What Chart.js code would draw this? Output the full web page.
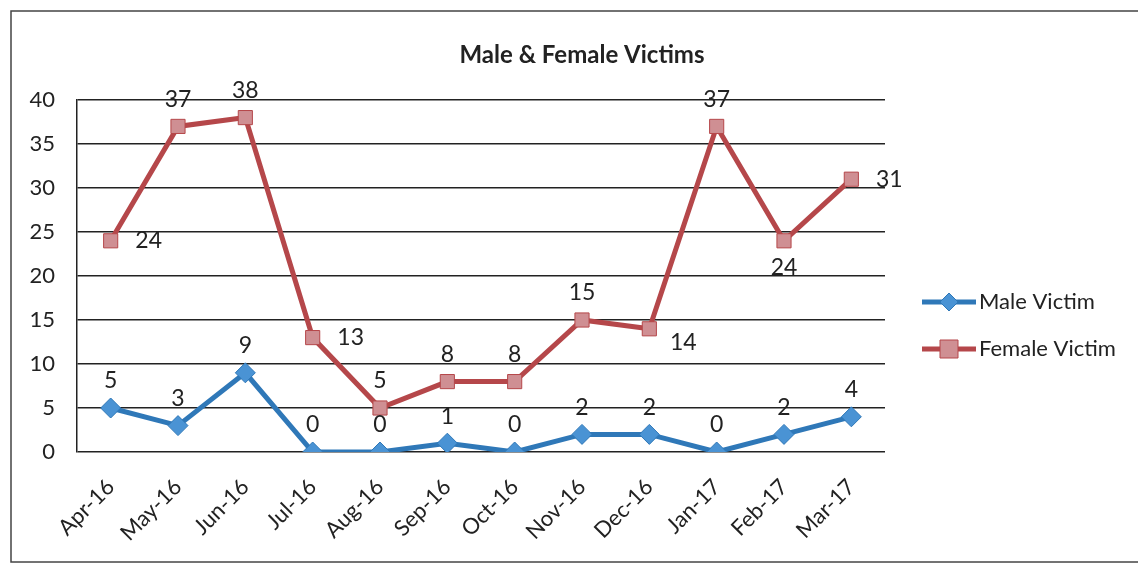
<!DOCTYPE html>
<html>
<head>
<meta charset="utf-8">
<script src="https://cdn.jsdelivr.net/npm/chart.js@4/dist/chart.umd.min.js"></script>
<style>
  html, body { margin: 0; padding: 0; background: #fff; }
  #wrap { width: 1138px; height: 566px; position: relative; }
</style>
</head>
<body>
<div id="wrap"><canvas id="chart"></canvas></div>
<script>
const months = ['Apr-16', 'May-16', 'Jun-16', 'Jul-16', 'Aug-16', 'Sep-16', 'Oct-16', 'Nov-16', 'Dec-16', 'Jan-17', 'Feb-17', 'Mar-17']
const maleVictims = [5, 3, 9, 0, 0, 1, 0, 2, 2, 0, 2, 4]
const femaleVictims = [24, 37, 38, 13, 5, 8, 8, 15, 14, 37, 24, 31]
const yTicks = [0, 5, 10, 15, 20, 25, 30, 35, 40]
const chartTitle = 'Male & Female Victims'

// where each value label sits relative to its point
const maleLabelPos = ['above', 'above', 'above', 'above', 'above', 'above', 'above', 'above', 'above', 'above', 'above', 'above']
const femaleLabelPos = ['right', 'above', 'above', 'right', 'above', 'above', 'above', 'above', 'belowRight', 'above', 'below', 'right']

const FONT = 'Lato, "Open Sans", sans-serif'
const MALE_LINE = '#2f78b8'
const MALE_FILL = '#4a93d4'
const FEMALE_LINE = '#b5474a'
const FEMALE_FILL = '#cf8f93'

// Value labels next to every point
const valueLabelsPlugin = {
  id: 'valueLabels',
  afterDatasetsDraw(chart) {
    const { ctx } = chart
    const positions = [maleLabelPos, femaleLabelPos]
    ctx.save()
    ctx.font = '23px ' + FONT
    ctx.fillStyle = '#222'
    ctx.textAlign = 'center'
    ctx.textBaseline = 'middle'
    chart.data.datasets.forEach((ds, di) => {
      const meta = chart.getDatasetMeta(di)
      meta.data.forEach((pt, i) => {
        let x = pt.x
        let y = pt.y
        const pos = positions[di][i]
        if (pos === 'above') y -= 27
        else if (pos === 'below') y += 27
        else if (pos === 'right') x += 38
        else if (pos === 'belowRight') { x += 34; y += 14 }
        ctx.fillText(String(ds.data[i]), x, y)
      })
    })
    ctx.restore()
  },
}

// Excel style legend: line segment with marker, then the name
const sideLegendPlugin = {
  id: 'sideLegend',
  afterDraw(chart) {
    const { ctx } = chart
    const rows = [
      { y: 302, ds: chart.data.datasets[0] },
      { y: 349, ds: chart.data.datasets[1] },
    ]
    ctx.save()
    rows.forEach(r => {
      const x0 = 922, x1 = 976, xm = (x0 + x1) / 2
      ctx.strokeStyle = r.ds.borderColor
      ctx.lineWidth = 5
      ctx.beginPath()
      ctx.moveTo(x0, r.y)
      ctx.lineTo(x1, r.y)
      ctx.stroke()
      ctx.fillStyle = r.ds.pointBackgroundColor
      ctx.strokeStyle = r.ds.borderColor
      ctx.lineWidth = 1
      ctx.beginPath()
      if (r.ds.pointStyle === 'rectRot') {
        ctx.moveTo(xm, r.y - 9)
        ctx.lineTo(xm + 9, r.y)
        ctx.lineTo(xm, r.y + 9)
        ctx.lineTo(xm - 9, r.y)
        ctx.closePath()
      } else {
        ctx.rect(xm - 9, r.y - 9, 18, 18)
      }
      ctx.fill()
      ctx.stroke()
      ctx.fillStyle = '#222'
      ctx.font = '22px ' + FONT
      ctx.textAlign = 'left'
      ctx.textBaseline = 'middle'
      ctx.fillText(r.ds.label, x1 + 3, r.y)
    })
    ctx.restore()
  },
}

// Outer frame and the title centred on the whole chart object
const framePlugin = {
  id: 'frame',
  beforeDraw(chart) {
    const { ctx } = chart
    ctx.save()
    ctx.fillStyle = '#fff'
    ctx.fillRect(0, 0, chart.width, chart.height)
    ctx.strokeStyle = '#444'
    ctx.lineWidth = 1.5
    ctx.strokeRect(11, 11, chart.width, chart.height - 15)
    ctx.fillStyle = '#222'
    ctx.font = 'bold 24px ' + FONT
    ctx.textAlign = 'center'
    ctx.textBaseline = 'middle'
    ctx.fillText(chartTitle, 582, 55)
    ctx.restore()
  },
}

new Chart(document.getElementById('chart'), {
  type: 'line',
  data: {
    labels: months,
    datasets: [
      {
        label: 'Male Victim',
        data: maleVictims,
        borderColor: MALE_LINE,
        backgroundColor: MALE_FILL,
        pointBackgroundColor: MALE_FILL,
        pointBorderColor: MALE_LINE,
        pointBorderWidth: 1,
        pointStyle: 'rectRot',
        pointRadius: 10,
        borderWidth: 5,
        tension: 0,
      },
      {
        label: 'Female Victim',
        data: femaleVictims,
        borderColor: FEMALE_LINE,
        backgroundColor: FEMALE_FILL,
        pointBackgroundColor: FEMALE_FILL,
        pointBorderColor: FEMALE_LINE,
        pointBorderWidth: 1,
        pointStyle: 'rect',
        pointRadius: 10,
        borderWidth: 5,
        tension: 0,
      },
    ],
  },
  options: {
    responsive: true,
    maintainAspectRatio: false,
    animation: false,
    layout: { padding: { left: 10, right: 253, top: 100, bottom: 10 } },
    plugins: {
      legend: { display: false },
      tooltip: { enabled: false },
      title: { display: false },
    },
    scales: {
      x: {
        offset: true,
        grid: { display: false, drawTicks: false },
        border: { display: false },
        ticks: {
          color: '#222',
          font: { family: FONT, size: 22 },
          maxRotation: 45,
          minRotation: 45,
          padding: 22,
        },
        afterFit: (scale) => { scale.height = 104 },
      },
      y: {
        min: 0,
        max: 40,
        afterBuildTicks: (scale) => { scale.ticks = yTicks.map(v => ({ value: v })) },
        grid: { color: '#222', lineWidth: 1.5, drawTicks: false },
        border: { display: true, color: '#222', width: 1.5 },
        ticks: {
          color: '#222',
          font: { family: FONT, size: 22 },
          padding: 22,
        },
        afterFit: (scale) => { scale.width = 67 },
      },
    },
  },
  plugins: [framePlugin, valueLabelsPlugin, sideLegendPlugin],
})
</script>
</body>
</html>
